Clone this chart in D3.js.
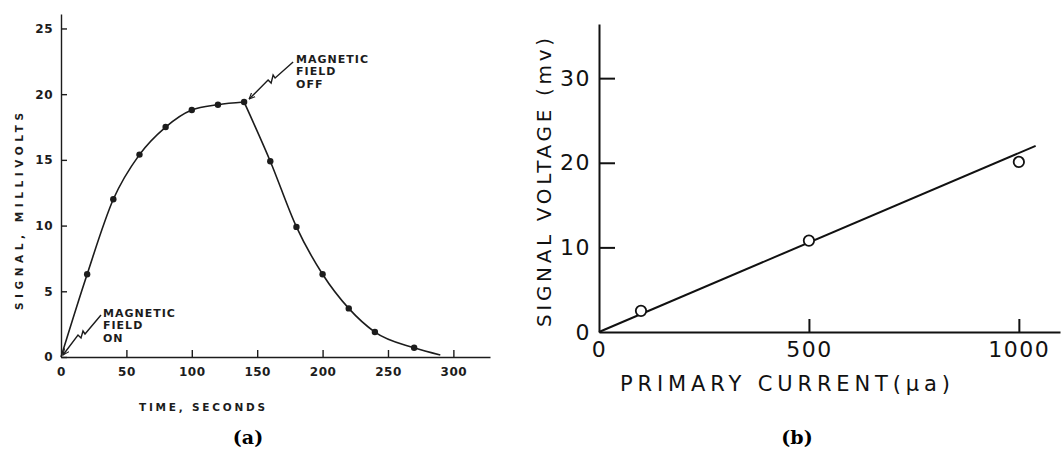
<!DOCTYPE html>
<meta charset="utf-8">
<script src="https://d3js.org/d3.v7.min.js"></script>
<style>
  body { margin: 0; background: #fff; }
  svg { display: block; }
</style>
<body>
<div id="my_dataviz"></div>
<script>

// ---- data (a): signal vs time ----
var timeSec  = [20, 40, 60, 80, 100, 120, 140, 160, 180, 200, 220, 240, 270];
var signalMv = [6.3, 12.0, 15.4, 17.5, 18.8, 19.2, 19.4, 14.9, 9.9, 6.3, 3.7, 1.9, 0.7];
var curveStart = [0, 0];
var curveEnd = [290, 0.15];
var fieldOffTime = 140;
var timeTicks = [0, 50, 100, 150, 200, 250, 300];
var signalTicks = [0, 5, 10, 15, 20, 25];

// ---- data (b): signal vs primary current ----
var currentUa = [100, 500, 1000];
var voltageMv = [2.5, 10.8, 20.1];
var fitCurrent = [0, 1040];
var fitVoltage = [0, 22.0];
var currentTicks = [0, 500, 1000];
var voltageTicks = [0, 10, 20, 30];

var W = 1062, H = 452;
var svg = d3.select("#my_dataviz").append("svg")
    .attr("width", W).attr("height", H);

svg.append("defs").append("marker")
    .attr("id", "arrowA")
    .attr("viewBox", "0 0 10 10")
    .attr("refX", 9).attr("refY", 5)
    .attr("markerWidth", 7).attr("markerHeight", 7)
    .attr("markerUnits", "userSpaceOnUse")
    .attr("orient", "auto")
  .append("path")
    .attr("d", "M0,1 L9,5 L0,9")
    .attr("fill", "none").attr("stroke", "#1c1c1c").attr("stroke-width", 1.6);

// =================== chart (a) ===================
var inkA = "#1c1c1c";
var fontA = "'DejaVu Sans', sans-serif";

var xA = d3.scaleLinear().domain([0, 328]).range([61, 490]);
var yA = d3.scaleLinear().domain([0, 26.1]).range([357, 14]);

var gA = svg.append("g");

var axXA = gA.append("g")
    .attr("transform", "translate(0," + yA(0) + ")")
    .call(d3.axisBottom(xA).tickValues(timeTicks).tickFormat(d3.format("d"))
      .tickSizeInner(-7).tickSizeOuter(0).tickPadding(10));
var axYA = gA.append("g")
    .attr("transform", "translate(" + xA(0) + ",0)")
    .call(d3.axisLeft(yA).tickValues(signalTicks).tickFormat(d3.format("d"))
      .tickSizeInner(-6).tickSizeOuter(0).tickPadding(8));

[axXA, axYA].forEach(function(ax) {
  ax.select(".domain").attr("stroke", inkA).attr("stroke-width", 1.4);
  ax.selectAll(".tick line").attr("stroke", inkA).attr("stroke-width", 1.4);
  ax.selectAll(".tick text")
    .attr("fill", inkA)
    .style("font-family", fontA).style("font-weight", "bold")
    .style("font-size", "12px").style("letter-spacing", "0.5px");
});
// the zero x tick sits on the y axis
axXA.selectAll(".tick").filter(function(d) { return d === 0; }).select("line").remove();

gA.append("text")
    .attr("x", 139).attr("y", 411)
    .attr("textLength", 126).attr("lengthAdjust", "spacing")
    .attr("fill", inkA)
    .style("font-family", fontA).style("font-weight", "bold").style("font-size", "10.5px")
    .text("TIME, SECONDS");

gA.append("text")
    .attr("transform", "translate(23,310) rotate(-90)")
    .attr("textLength", 197).attr("lengthAdjust", "spacing")
    .attr("fill", inkA)
    .style("font-family", fontA).style("font-weight", "bold").style("font-size", "10.5px")
    .text("SIGNAL, MILLIVOLTS");

// curve: rise while the field is on, decay after it is switched off
var ptsA = timeSec.map(function(t, i) { return [t, signalMv[i]]; });
var rise = [curveStart].concat(ptsA.filter(function(p) { return p[0] <= fieldOffTime; }));
var fall = ptsA.filter(function(p) { return p[0] >= fieldOffTime; }).concat([curveEnd]);

var lineA = d3.line()
    .x(function(d) { return xA(d[0]); })
    .y(function(d) { return yA(d[1]); })
    .curve(d3.curveMonotoneX);

[rise, fall].forEach(function(seg) {
  gA.append("path")
    .attr("d", lineA(seg))
    .attr("fill", "none").attr("stroke", inkA).attr("stroke-width", 1.6);
});

gA.selectAll("circle.dot")
  .data(ptsA)
  .enter().append("circle")
    .attr("class", "dot")
    .attr("cx", function(d) { return xA(d[0]); })
    .attr("cy", function(d) { return yA(d[1]); })
    .attr("r", 3.2)
    .attr("fill", inkA);

// annotations
function note(x, y, lines) {
  var t = gA.append("text")
    .attr("fill", inkA)
    .style("font-family", fontA).style("font-weight", "bold")
    .style("font-size", "11px").style("letter-spacing", "1px");
  lines.forEach(function(s, i) {
    t.append("tspan").attr("x", x).attr("y", y + i * 12.3).text(s);
  });
}
var zig = d3.line().curve(d3.curveLinear);

// field on, arrow to the origin
var ox = xA(0), oy = yA(0);
note(ox + 42, oy - 40, ["MAGNETIC", "FIELD", "ON"]);
gA.append("path")
  .attr("d", zig([[ox + 40, oy - 42], [ox + 24, oy - 23], [ox + 22, oy - 26],
                  [ox + 20, oy - 19], [ox + 17, oy - 22], [ox + 2, oy - 2]]))
  .attr("fill", "none").attr("stroke", inkA).attr("stroke-width", 1.4)
  .attr("marker-end", "url(#arrowA)");

// field off, arrow to the peak
var fx = xA(fieldOffTime), fy = yA(19.4);
note(fx + 52, fy - 39, ["MAGNETIC", "FIELD", "OFF"]);
gA.append("path")
  .attr("d", zig([[fx + 49, fy - 40], [fx + 31, fy - 24], [fx + 29, fy - 27],
                  [fx + 27, fy - 19], [fx + 24, fy - 22], [fx + 5, fy - 3]]))
  .attr("fill", "none").attr("stroke", inkA).attr("stroke-width", 1.4)
  .attr("marker-end", "url(#arrowA)");

// =================== chart (b) ===================
var inkB = "#111";
var fontB = "'DejaVu Sans', sans-serif";

var xB = d3.scaleLinear().domain([0, 1098]).range([599, 1060]);
var yB = d3.scaleLinear().domain([0, 36.4]).range([332, 24]);

var gB = svg.append("g");

var axXB = gB.append("g")
    .attr("transform", "translate(0," + yB(0) + ")")
    .call(d3.axisBottom(xB).tickValues(currentTicks).tickFormat(d3.format("d"))
      .tickSizeInner(-13).tickSizeOuter(0).tickPadding(9));
var axYB = gB.append("g")
    .attr("transform", "translate(" + xB(0) + ",0)")
    .call(d3.axisLeft(yB).tickValues(voltageTicks).tickFormat(d3.format("d"))
      .tickSizeInner(-16).tickSizeOuter(0).tickPadding(8));

[axXB, axYB].forEach(function(ax) {
  ax.select(".domain").attr("stroke", inkB).attr("stroke-width", 2);
  ax.selectAll(".tick line").attr("stroke", inkB).attr("stroke-width", 2);
  ax.selectAll(".tick text")
    .attr("fill", inkB)
    .style("font-family", fontB)
    .style("font-size", "22px").style("letter-spacing", "1.5px");
});
axXB.selectAll(".tick").filter(function(d) { return d === 0; }).select("line").remove();
axYB.selectAll(".tick").filter(function(d) { return d === 0; }).select("line").remove();

gB.append("text")
    .attr("x", 620).attr("y", 391)
    .attr("textLength", 330).attr("lengthAdjust", "spacing")
    .attr("fill", inkB)
    .style("font-family", fontB).style("font-size", "21px")
    .text("PRIMARY CURRENT(\u03bca)");

gB.append("text")
    .attr("transform", "translate(551,327) rotate(-90)")
    .attr("textLength", 289).attr("lengthAdjust", "spacing")
    .attr("fill", inkB)
    .style("font-family", fontB).style("font-size", "20px")
    .text("SIGNAL VOLTAGE (mv)");

// fitted line
var fit = fitCurrent.map(function(c, i) { return [c, fitVoltage[i]]; });
gB.append("path")
  .attr("d", d3.line()
      .x(function(d) { return xB(d[0]); })
      .y(function(d) { return yB(d[1]); })(fit))
  .attr("fill", "none").attr("stroke", inkB).attr("stroke-width", 2);

gB.selectAll("circle.obs")
  .data(currentUa.map(function(c, i) { return [c, voltageMv[i]]; }))
  .enter().append("circle")
    .attr("class", "obs")
    .attr("cx", function(d) { return xB(d[0]); })
    .attr("cy", function(d) { return yB(d[1]); })
    .attr("r", 5.2)
    .attr("fill", "#fff").attr("stroke", inkB).attr("stroke-width", 1.8);

// ---- panel captions ----
var capFont = "'DejaVu Serif', serif";
svg.append("text")
    .attr("x", 248).attr("y", 444).attr("text-anchor", "middle")
    .style("font-family", capFont).style("font-weight", "bold").style("font-size", "19px")
    .text("(a)");
svg.append("text")
    .attr("x", 797).attr("y", 444).attr("text-anchor", "middle")
    .style("font-family", capFont).style("font-weight", "bold").style("font-size", "19px")
    .text("(b)");

</script>
</body>
